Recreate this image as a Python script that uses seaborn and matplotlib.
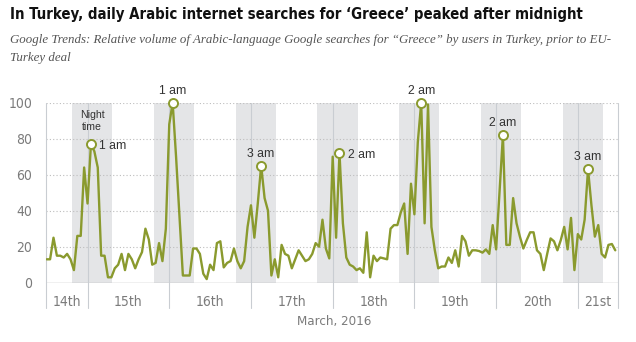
import numpy as np
import pandas as pd
import matplotlib
matplotlib.use("Agg")
import matplotlib.pyplot as plt
import seaborn as sns

# ---------------- data ----------------
# hourly index: 0 = March 14th 12:00 (Turkey time) ... 167 = March 21st 11:00
search_volume = [
    13, 13, 25, 15, 15, 14, 16, 13, 7, 26, 26, 64,          # 14th 12:00-23:00
    44, 77, 73, 64, 15, 15, 3, 3, 8, 10, 16, 7,             # 15th 00-11
    16, 13, 8, 13, 17, 30, 24, 10, 11, 22, 12, 30,          # 15th 12-23
    88, 100, 70, 37, 4, 4, 4, 19, 19, 16, 5, 2,             # 16th 00-11
    10, 7, 22, 23, 8.5, 11, 12, 19, 12, 8, 12, 31,          # 16th 12-23
    43, 25, 44, 65, 47, 40, 4, 13, 3, 21, 16, 15,           # 17th 00-11
    8, 13, 18, 15, 12, 13, 16, 22, 20, 35, 19, 13.5,        # 17th 12-23
    70, 25, 72, 33, 14, 10, 9, 7, 8, 5.5, 28, 3,            # 18th 00-11
    15, 12, 14, 13.5, 13, 30, 32, 32, 39, 44, 16, 55,       # 18th 12-23
    38, 78, 100, 33, 99, 31, 18, 8, 9, 9, 14, 11,           # 19th 00-11
    18, 9, 26, 23, 15, 18, 18, 17.6, 16.7, 18.5, 16, 32,    # 19th 12-23
    18.5, 50, 82, 21, 21, 47, 33, 25.5, 19, 23.7, 28, 28,   # 20th 00-11
    18, 16, 7, 16, 24.6, 23, 18, 23.7, 31, 18.5, 36, 7,     # 20th 12-23
    27, 24, 35, 63, 43, 25.6, 32, 16, 14, 21, 21.5, 18,     # 21st 00-11
]
day_labels = ["14th", "15th", "16th", "17th", "18th", "19th", "20th", "21st"]
midnight_hours = [12, 36, 60, 84, 108, 132, 156]
peak_hours = [13, 37, 63, 86, 110, 134, 159]
peak_labels = ["1 am", "1 am", "3 am", "2 am", "2 am", "2 am", "3 am"]
peak_label_side = ["right", "above", "above", "right", "above", "above", "above"]
y_ticks = [0, 20, 40, 60, 80, 100]

title = "In Turkey, daily Arabic internet searches for \u2018Greece\u2019 peaked after midnight"
subtitle1 = ("Google Trends: Relative volume of Arabic-language Google searches for "
             "\u201cGreece\u201d by users in Turkey, prior to EU-")
subtitle2 = "Turkey deal"
x_title = "March, 2016"

# ---------------- style ----------------
sns.set_theme(style="white")
SANS = ["Liberation Sans", "DejaVu Sans"]
plt.rcParams["font.family"] = SANS

LINE = "#8a9a2e"
GRAY_TXT = "#7b7b7b"
SHADE = "#e4e5e7"
SEP = "#c9cdd2"

df = pd.DataFrame({"hour": np.arange(len(search_volume)), "volume": search_volume})

fig = plt.figure(figsize=(6.36, 3.42), dpi=100)
ax = fig.add_axes([46 / 636, 1 - 282.7 / 342, (618 - 46) / 636, 180 / 342])

x0, x1 = -0.2, 167.8
ax.set_xlim(x0, x1)
ax.set_ylim(0, 100)

# night shading
for m in midnight_hours:
    ax.axvspan(m - 4.5, m + 7.3, color=SHADE, lw=0, zorder=0)

# dotted grid
for yv in y_ticks[1:]:
    ax.axhline(yv, color="#bdbdbd", lw=0.8, ls=(0, (1, 2)), zorder=1)
ax.axhline(0, color="#b5b5b5", lw=1.0, zorder=1)

# day separators (extend into tick area)
for xv in [x0] + midnight_hours + [x1]:
    ax.plot([xv, xv], [100, -14], color=SEP, lw=0.8, clip_on=False, zorder=1)

sns.lineplot(data=df, x="hour", y="volume", ax=ax, color=LINE, lw=1.7,
             zorder=3, legend=False)

# peak markers and labels
for h, lab, side in zip(peak_hours, peak_labels, peak_label_side):
    v = search_volume[h]
    ax.plot([h], [v], marker="o", ms=6.5, mfc="white", mec=LINE, mew=1.4,
            zorder=4, clip_on=False)
    if side == "right":
        ax.annotate(lab, (h, v), xytext=(6, -1.5), textcoords="offset points",
                    ha="left", va="center", fontsize=8.8, color="#333333")
    else:
        ax.annotate(lab, (h, v), xytext=(0, 8.5), textcoords="offset points",
                    ha="center", va="center", fontsize=8.8, color="#333333")

ax.text(13.3, 90, "Night\ntime", ha="center", va="center", fontsize=7.6,
        color="#333333", linespacing=1.25)

# ticks
ax.set_yticks(y_ticks)
ax.set_yticklabels([str(t) for t in y_ticks])
centers = [(x0 + 12) / 2] + [24 + 24 * k for k in range(6)] + [(156 + x1) / 2]
ax.set_xticks(centers)
ax.set_xticklabels(day_labels)
ax.tick_params(axis="both", length=0, colors=GRAY_TXT, labelsize=10)
ax.tick_params(axis="y", pad=10)
ax.tick_params(axis="x", pad=9)
for lbl in ax.get_xticklabels() + ax.get_yticklabels():
    lbl.set_family(["DejaVu Sans"])
    lbl.set_fontstretch("condensed")
ax.set_xlabel("")
ax.set_ylabel("")
for s in ax.spines.values():
    s.set_visible(False)

fig.text(334 / 636, 1 - 321.5 / 342, x_title, ha="center", va="center",
         fontsize=9.5, color=GRAY_TXT, family=["DejaVu Sans"],
         fontstretch="condensed")

# titles
t_title = fig.text(10 / 636, 1 - 14.5 / 342, title, ha="left", va="center",
                   fontsize=13.0, fontweight="bold", color="#111111",
                   fontstretch="condensed", family=["DejaVu Sans"])
serif = ["Liberation Serif", "DejaVu Serif"]
t_sub1 = fig.text(10 / 636, 1 - 40 / 342, subtitle1, ha="left", va="center",
                  fontsize=9.9, style="italic", color="#555555", family=serif)
t_sub2 = fig.text(10 / 636, 1 - 58.5 / 342, subtitle2, ha="left", va="center",
                  fontsize=9.9, style="italic", color="#555555", family=serif)


def fit_width(txt, target_px):
    fig.canvas.draw()
    r = fig.canvas.get_renderer()
    w = txt.get_window_extent(r).width
    txt.set_fontsize(txt.get_fontsize() * target_px / w)


fit_width(t_title, 570)
fit_width(t_sub1, 600)
t_sub2.set_fontsize(t_sub1.get_fontsize())

fig.savefig("out.png", dpi=100)
